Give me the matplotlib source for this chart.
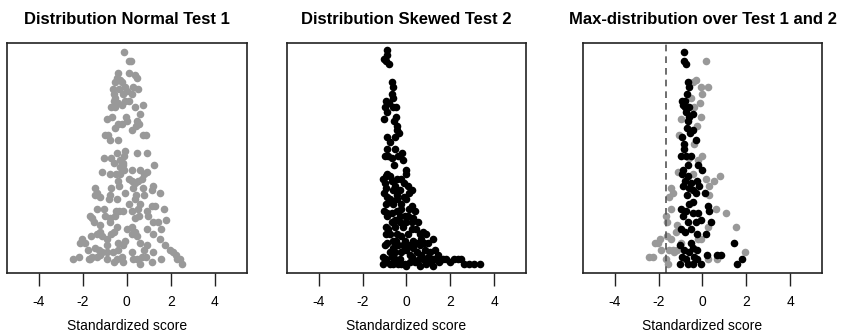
import matplotlib
matplotlib.use("Agg")
import matplotlib.pyplot as plt

plt.rcParams['font.family'] = ['Liberation Sans', 'DejaVu Sans']

# Test 1: normally distributed standardized scores (x) with their plotting height (y)
normal_x = [-0.14, 0.08, 0.20, -0.38, 0.08, 0.38, 0.48, -0.45, -0.53, -0.23,
            -0.08, 0.30, 0.53, -0.63, -0.33, 0.00, -0.60, -0.53, -0.15, -0.57,
            -0.38, -0.08, 0.12, -0.71, -0.53, -0.23, 0.38, 0.72, 0.60, -0.90,
            -0.03, -0.38, -0.23, 0.00, 0.45, 0.56, -0.53, 0.42, -0.98, -0.87,
            -0.75, 0.72, 0.87, -0.45, -0.08, -0.12, 0.45, 0.90, -1.02, -0.72,
            -0.60, -0.30, -0.18, 1.23, -1.13, -0.75, -0.48, -0.30, -0.12, -0.15,
            0.90, 0.78, 0.68, -0.38, 0.12, 0.23, 0.53, 0.38, -1.43, -1.35,
            -1.46, -0.72, -0.75, -0.33, -0.06, 0.30, 0.75, 1.20, 1.13, 1.50,
            0.80, 0.42, 0.38, -0.83, -1.35, -1.02, -1.65, -1.58, -1.50, -1.20,
            -1.20, -0.75, -0.75, -0.48, -0.33, -0.15, -0.53, 0.23, 0.50, 0.57,
            0.38, 0.90, 0.98, 1.28, 1.68, 1.20, 1.43, 1.77, 1.58, 0.23,
            0.38, 0.45, -0.60, -0.72, -0.90, -1.13, -2.03, -2.11, -1.88, -1.62,
            -1.77, -1.43, -1.28, -1.13, -0.90, -0.63, -0.38, -0.08, -0.15, -0.38,
            0.23, 0.60, 0.78, 1.20, 1.53, 1.73, 1.95, 2.11, 2.23, 2.41,
            2.53, 2.29, -2.44, -2.18, -1.65, -1.58, -1.35, -1.20, -0.90, -0.60,
            -0.23, -0.18, 0.27, 0.45, 0.60, 0.68, 0.86, 1.17, 1.55,
            -1.20, -0.45, 0.08, 0.60, 1.13, -0.98, 0.00, 0.90, 1.20, -0.45,
            -1.35, -0.90, 0.23, 0.90, -0.45, -1.73, -0.30, 0.23, 0.60, -0.38,
            0.23, -0.68, 0.23, -0.30]
normal_y = [0.96, 0.92, 0.92, 0.87, 0.87, 0.86, 0.85, 0.85, 0.83, 0.83,
            0.81, 0.81, 0.80, 0.80, 0.80, 0.79, 0.78, 0.76, 0.78, 0.75,
            0.74, 0.75, 0.75, 0.72, 0.72, 0.73, 0.72, 0.73, 0.69, 0.67,
            0.68, 0.65, 0.65, 0.66, 0.66, 0.65, 0.63, 0.64, 0.60, 0.60,
            0.58, 0.60, 0.60, 0.52, 0.53, 0.51, 0.52, 0.52, 0.50, 0.50,
            0.48, 0.49, 0.48, 0.47, 0.44, 0.43, 0.43, 0.43, 0.45, 0.47,
            0.44, 0.43, 0.41, 0.40, 0.41, 0.40, 0.40, 0.39, 0.37, 0.35,
            0.34, 0.37, 0.34, 0.38, 0.35, 0.37, 0.37, 0.38, 0.36, 0.35,
            0.34, 0.34, 0.32, 0.32, 0.28, 0.28, 0.25, 0.24, 0.22, 0.21,
            0.18, 0.24, 0.22, 0.27, 0.27, 0.27, 0.25, 0.27, 0.28, 0.25,
            0.24, 0.27, 0.25, 0.29, 0.28, 0.22, 0.22, 0.23, 0.19, 0.20,
            0.18, 0.16, 0.18, 0.17, 0.15, 0.16, 0.15, 0.13, 0.13, 0.16,
            0.10, 0.11, 0.10, 0.09, 0.09, 0.09, 0.10, 0.14, 0.12, 0.13,
            0.17, 0.13, 0.10, 0.09, 0.15, 0.12, 0.10, 0.09, 0.08, 0.06,
            0.04, 0.06, 0.06, 0.07, 0.06, 0.07, 0.07, 0.08, 0.06, 0.05,
            0.07, 0.05, 0.06, 0.06, 0.04, 0.07, 0.07, 0.05, 0.06,
            0.33, 0.32, 0.30, 0.30, 0.29, 0.25, 0.19, 0.19, 0.17, 0.20,
            0.17, 0.12, 0.09, 0.12, 0.06, 0.06, 0.46, 0.45, 0.45, 0.58,
            0.62, 0.68, 0.78, 0.84]

# Test 2: right-skewed standardized scores
skewed_x = [-0.90, -0.87, -1.02, -0.93, -0.78, -0.66, -0.63, -0.68, -0.60, -0.93,
            -0.81, -0.98, -0.60, -0.48, -0.90, -1.02, -0.48, -0.57, -0.45, -0.45,
            -0.33, -0.90, -0.53, -0.75, -0.90, -0.53, -0.98, -0.83, -0.68, -0.38,
            -0.18, -0.15, -0.57, -0.90, -0.93, -0.03, 0.00, -0.98, -0.68, -0.53,
            -0.12, 0.08, -0.93, -0.60, -0.30, 0.12, 0.23, -0.90, -0.75, -0.45,
            -0.12, -0.03, 0.23, 0.38, -1.02, -0.87, -0.68, -0.45, -0.23, -0.08,
            0.08, -0.90, -0.53, -0.30, 0.00, 0.23, 0.53, 0.45, 0.75, 0.87,
            -0.93, -0.83, -0.53, -0.15, -0.93, -0.75, -0.42, -0.23, 0.08, 0.30,
            0.68, 0.98, 1.20, -0.48, -0.38, -0.60, -0.75, -0.98, -0.15, 0.08,
            0.30, 0.60, 0.83, 1.08, 1.32, 1.43, 0.48, 0.15, -0.23, -0.53,
            -1.05, -0.93, -0.75, -0.53, -0.30, -0.08, 0.15, 0.38, 0.57, 0.75,
            0.90, 1.08, 1.28, 1.47, 1.65, 1.80, 1.98, 2.18, 2.33, 2.48,
            2.63, 2.83, 3.08, 3.35, -0.60, -0.38, 0.00, 0.60, 1.20,
            -1.05, -0.75, -0.42, -0.23, -1.02, -0.45, -0.27, -0.60, -0.93, 0.12,
            -0.30, 0.30, -0.68, 0.23, 0.60, -0.60, -0.08, 0.45, 0.78, -0.87,
            0.00, 0.68, 0.98, -0.68, 0.23, 1.20, -0.23, -1.05]
skewed_y = [0.97, 0.95, 0.93, 0.92, 0.91, 0.83, 0.81, 0.78, 0.76, 0.75,
            0.74, 0.72, 0.72, 0.72, 0.70, 0.67, 0.68, 0.66, 0.64, 0.62,
            0.61, 0.59, 0.59, 0.57, 0.54, 0.54, 0.51, 0.51, 0.50, 0.51,
            0.52, 0.49, 0.47, 0.43, 0.42, 0.45, 0.43, 0.39, 0.40, 0.38,
            0.39, 0.38, 0.37, 0.36, 0.36, 0.35, 0.36, 0.33, 0.32, 0.32,
            0.33, 0.32, 0.29, 0.27, 0.27, 0.26, 0.26, 0.27, 0.28, 0.25,
            0.25, 0.25, 0.23, 0.22, 0.22, 0.22, 0.22, 0.19, 0.18, 0.17,
            0.20, 0.19, 0.20, 0.20, 0.17, 0.17, 0.17, 0.16, 0.17, 0.14,
            0.15, 0.13, 0.15, 0.14, 0.12, 0.11, 0.09, 0.12, 0.12, 0.12,
            0.11, 0.12, 0.10, 0.09, 0.10, 0.08, 0.09, 0.08, 0.09, 0.09,
            0.07, 0.06, 0.04, 0.06, 0.06, 0.04, 0.05, 0.05, 0.06, 0.06,
            0.04, 0.05, 0.06, 0.05, 0.06, 0.06, 0.05, 0.06, 0.06, 0.06,
            0.04, 0.04, 0.04, 0.04, 0.04, 0.04, 0.03, 0.03, 0.03,
            0.41, 0.42, 0.41, 0.41, 0.35, 0.34, 0.30, 0.30, 0.30, 0.28,
            0.25, 0.24, 0.22, 0.19, 0.17, 0.14, 0.14, 0.13, 0.13, 0.13,
            0.10, 0.08, 0.07, 0.07, 0.07, 0.06, 0.04, 0.04]

# Maximum over both tests: cases where Test 2 gives the maximum
max_t2_x = [-0.86, -0.83, -0.75, -0.68, -0.63, -0.71, -0.80, -0.95, -0.90, -0.80,
            -0.60, -0.75, -0.60, -0.45, -0.68, -0.71, -0.45, -0.56, -0.95, -0.30,
            -0.83, -0.86, -0.98, -0.75, -0.53, -0.68, -0.20, -0.90, 0.00, -0.95,
            -0.68, -0.80, -0.53, -0.23, -0.15, -0.90, -0.60, -0.45, -0.71, -0.30,
            0.11, -0.45, -0.60, -0.98, -0.75, -0.45, -0.20, 0.23, 0.30, -0.90,
            -0.68, -0.30, -0.08, 0.38, -0.98, -0.80, -0.53, -0.23, 0.15, -0.53,
            -0.45, -0.26, 1.43, -1.01, -0.83, -0.60, -0.95, -0.75, -0.38, -0.23,
            0.20, 0.68, 0.83, 1.80, 1.55, -1.01, -0.68, -0.08, -0.45]
max_t2_y = [0.96, 0.92, 0.91, 0.83, 0.81, 0.78, 0.75, 0.75, 0.73, 0.72,
            0.72, 0.70, 0.68, 0.69, 0.66, 0.63, 0.62, 0.61, 0.59, 0.58,
            0.56, 0.54, 0.51, 0.51, 0.51, 0.47, 0.47, 0.45, 0.45, 0.43,
            0.42, 0.40, 0.39, 0.40, 0.38, 0.38, 0.37, 0.36, 0.34, 0.35,
            0.35, 0.31, 0.30, 0.28, 0.27, 0.26, 0.26, 0.29, 0.27, 0.25,
            0.22, 0.22, 0.23, 0.22, 0.19, 0.18, 0.19, 0.17, 0.17, 0.13,
            0.11, 0.10, 0.13, 0.12, 0.10, 0.09, 0.07, 0.06, 0.07, 0.06,
            0.08, 0.08, 0.08, 0.06, 0.04, 0.04, 0.04, 0.04, 0.04]

# Maximum over both tests: cases where Test 1 gives the maximum
max_t1_x = [0.18, -0.30, -0.45, -0.08, 0.26, 0.00, -0.53, -0.11, -0.38, -0.98,
            -0.05, -0.26, -1.05, -0.38, 0.00, -0.60, -0.20, -1.13, -0.45, 0.15,
            0.53, 0.80, -1.43, -1.35, -1.50, 0.30, 0.30, -1.65, -1.61, -1.43,
            0.60, 1.05, -1.16, -1.20, 0.23, 1.53, -1.95, -2.03, -2.15, -1.61,
            -1.43, -0.08, -1.88, -1.50, -1.35, -1.16, -1.28, 1.95, -2.45, -2.26,
            -1.65, -1.58, 0.23, 0.68, -0.98, -0.20]
max_t1_y = [0.92, 0.84, 0.83, 0.81, 0.81, 0.78, 0.76, 0.74, 0.72, 0.67,
            0.68, 0.64, 0.60, 0.56, 0.51, 0.50, 0.49, 0.44, 0.43, 0.41,
            0.40, 0.42, 0.37, 0.35, 0.33, 0.38, 0.34, 0.25, 0.22, 0.28,
            0.28, 0.26, 0.21, 0.18, 0.20, 0.20, 0.15, 0.13, 0.13, 0.16,
            0.15, 0.15, 0.10, 0.10, 0.10, 0.10, 0.09, 0.09, 0.07, 0.07,
            0.06, 0.04, 0.06, 0.06, 0.13, 0.15]

critical_value = -1.645
xticks = [-4, -2, 0, 2, 4]
titles = ["Distribution Normal Test 1", "Distribution Skewed Test 2",
          "Max-distribution over Test 1 and 2"]

GRAY = "#999999"
BLACK = "#000000"
DOT = 30

fig = plt.figure(figsize=(8.41, 3.35), dpi=100)
lefts = [7 / 841, 286.7 / 841, 582.7 / 841]
width = 239.5 / 841
bottom = 1 - 273 / 335
height = 230 / 335
axes = [fig.add_axes([l, bottom, width, height]) for l in lefts]

axes[0].scatter(normal_x, normal_y, s=DOT, color=GRAY, linewidths=0)
axes[1].scatter(skewed_x, skewed_y, s=DOT, color=BLACK, linewidths=0)
axes[2].axvline(critical_value, color="#555555", lw=1.2, ls=(0, (4, 3)))
axes[2].scatter(max_t1_x, max_t1_y, s=DOT, color=GRAY, linewidths=0)
axes[2].scatter(max_t2_x, max_t2_y, s=DOT, color=BLACK, linewidths=0)

for ax, title in zip(axes, titles):
    ax.set_xlim(-5.45, 5.45)
    ax.set_ylim(0, 1)
    ax.set_yticks([])
    ax.set_xticks(xticks)
    ax.set_xticklabels([str(t) for t in xticks], fontsize=10)
    ax.tick_params(axis="x", direction="out", length=9, width=1.0, pad=7,
                   color="#222222")
    for sp in ax.spines.values():
        sp.set_linewidth(1.2)
        sp.set_color("#222222")
    ax.set_xlabel("Standardized score", fontsize=10, labelpad=7)
    ax.set_title(title, fontsize=12, fontweight="bold", pad=14)

fig.savefig("out.png", dpi=100)
